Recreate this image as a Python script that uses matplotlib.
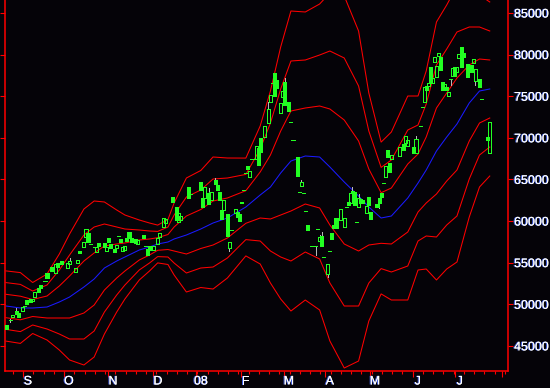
import numpy as np
import matplotlib
matplotlib.use('Agg')
import matplotlib.pyplot as plt
from matplotlib.patches import Rectangle
import matplotlib.patheffects as pe
import matplotlib.transforms as mtransforms

# ---------------- candle data (trading-day index, OHLC) ----------------
cdl_day = [
    0, 2, 3, 5, 6, 8, 9, 10, 12, 13,
    14, 16, 17, 19, 20, 22, 24, 25, 27, 30,
    31, 34, 35, 36, 38, 39, 40, 41, 43, 44,
    45, 48, 49, 50, 51, 53, 54, 55, 56, 57,
    58, 59, 60, 61, 63, 64, 67, 68, 69, 70,
    72, 74, 75, 77, 78, 81, 83, 84, 85, 89,
    90, 95, 96, 97, 99, 100, 102, 103, 104, 105,
    106, 108, 109, 110, 112, 113, 114, 115, 116, 117,
    118, 119, 120, 122, 123, 124, 126, 128, 129, 130,
    131, 132, 134, 135, 136, 138, 139, 140, 142, 143,
    144, 145, 146, 147, 149, 151, 152, 153, 154, 155,
    157, 158, 159, 160, 161, 163, 165, 166, 167, 168,
    169, 170, 171, 172, 173, 174, 176, 177, 178, 181,
    182, 183, 184, 185, 186, 187, 188, 192, 194, 195,
    196, 199, 200, 202, 203, 204, 205, 206, 207, 208,
    209, 210, 211, 212, 213, 214, 215, 216, 217, 218,
    219, 220, 221, 222, 223, 225, 227, 228, 229, 231,
    232, 235, 236]

cdl_open = [
    47510, 48110, 48470, 49190, 48950, 49190, 49790, 50510, 50630, 50390,
    50870, 51960, 52320, 52800, 53760, 54480, 53760, 54960, 55200, 54360,
    54840, 53880, 54960, 56400, 56880, 58080, 58560, 57240, 56880, 56280,
    57360, 57360, 56400, 57960, 57240, 56640, 56760, 58200, 57840, 56400,
    56520, 57960, 58680, 57960, 57840, 57240, 58320, 57000, 56640, 57000,
    56520, 57240, 58080, 59280, 59760, 62890, 61690, 59880, 60130, 64090,
    63250, 64690, 62770, 62770, 63370, 62530, 64930, 64330, 63490, 61330,
    61330, 60850, 56760, 58930, 60970, 61090, 60850, 62290, 63730, 65780,
    66620, 65290, 67460, 67460, 68780, 69980, 70100, 71780, 74310, 76590,
    77790, 76950, 72980, 74910, 76710, 74310, 71900, 69740, 67700, 63490,
    64210, 63370, 61210, 59530, 57000, 57000, 59050, 57600, 58200, 55680,
    53640, 56400, 58560, 59530, 60370, 60130, 59290, 61690, 62290, 62170,
    63610, 63490, 59890, 61690, 62650, 62530, 60970, 62890, 61090, 62050,
    62770, 63370, 64570, 65290, 68540, 66980, 67460, 67820, 69260, 69380,
    69020, 68900, 68180, 71420, 73700, 74310, 76230, 76230, 78510, 76590,
    79110, 77310, 79830, 79710, 76710, 75750, 76110, 75030, 77070, 77430,
    78510, 77910, 79590, 80910, 80190, 78870, 78750, 78990, 76830, 77070,
    74670, 70100, 68180]

cdl_close = [
    47030, 48110, 48710, 48830, 48470, 49670, 49790, 50030, 50270, 50630,
    51480, 51480, 51960, 52800, 53160, 54000, 54840, 54480, 54840, 54960,
    55200, 54360, 55320, 56160, 57480, 59040, 57480, 57240, 56880, 56880,
    57000, 56880, 56880, 57480, 56760, 56280, 57120, 58200, 57480, 56880,
    57000, 57600, 57960, 57480, 57360, 57720, 57960, 57000, 55920, 56520,
    57000, 57960, 58560, 60370, 60250, 62290, 60130, 60970, 60610, 62770,
    63250, 63730, 61690, 64090, 62050, 63490, 64450, 63730, 62530, 60250,
    62530, 58200, 57480, 58930, 61450, 60490, 60010, 62170, 63730, 65780,
    66260, 66020, 67460, 69020, 66740, 68300, 71420, 73460, 75150, 76590,
    75030, 75990, 74190, 75630, 73950, 73220, 71900, 69740, 65410, 63490,
    64690, 63370, 61210, 58930, 57000, 57000, 59050, 58080, 57000, 55680,
    54840, 56400, 57840, 59170, 59170, 61450, 60370, 61690, 61930, 63370,
    63370, 61930, 59890, 62770, 62170, 62170, 61810, 61930, 60250, 61690,
    62170, 62890, 64570, 66620, 67700, 65900, 67940, 68900, 68540, 70220,
    69740, 68180, 69860, 71420, 73700, 76110, 75750, 76590, 76710, 77190,
    79710, 78630, 80190, 78150, 75750, 76470, 75750, 75510, 77070, 78390,
    77430, 78510, 80070, 78510, 79710, 77310, 77910, 79470, 78270, 76110,
    74670, 69740, 71900]

cdl_high = [
    47510, 48230, 48710, 49550, 48950, 49670, 49790, 50510, 50630, 50630,
    51480, 51960, 52320, 52800, 53760, 54480, 54840, 54960, 55200, 54960,
    55560, 54360, 55320, 56400, 57480, 59040, 58560, 57240, 56880, 56880,
    57360, 57360, 56880, 57960, 57240, 56640, 57120, 58200, 57840, 56880,
    57000, 57960, 58680, 57960, 57840, 57720, 58320, 57000, 56640, 57000,
    57000, 57960, 58560, 60370, 60250, 62890, 61690, 60970, 60610, 64090,
    63250, 64690, 62770, 64090, 63970, 63490, 65170, 64330, 63490, 61330,
    62530, 60850, 57480, 58930, 61450, 61090, 60850, 62290, 63730, 65780,
    66620, 66020, 67460, 69020, 68780, 69980, 71420, 74310, 75150, 76590,
    77790, 76950, 74190, 75630, 77190, 74310, 71900, 69740, 67700, 63490,
    64930, 63370, 61210, 59530, 57000, 57000, 59050, 58320, 58680, 55680,
    54840, 56400, 58560, 59530, 60370, 61450, 60370, 61690, 62290, 63370,
    64090, 63490, 59890, 63250, 62650, 62530, 61810, 62890, 61090, 62050,
    62770, 63370, 64570, 66620, 68540, 66980, 67940, 68900, 69260, 70220,
    69740, 68900, 70220, 71420, 73700, 76110, 76230, 76590, 78510, 77190,
    79710, 78630, 80190, 79710, 76710, 76470, 76110, 75510, 77070, 78390,
    78510, 78510, 80070, 80910, 80190, 78870, 78750, 79470, 78270, 77070,
    74670, 70100, 71900]

cdl_low = [
    47030, 47870, 48470, 48830, 48470, 49190, 49790, 50030, 50270, 50390,
    50870, 51480, 51960, 52800, 53160, 54000, 53760, 54480, 54840, 54360,
    54840, 53880, 54960, 56160, 56880, 58080, 57480, 57240, 56880, 56280,
    57000, 56880, 56400, 57480, 56760, 56280, 56760, 58200, 57480, 56400,
    56520, 57600, 57960, 57480, 57360, 57240, 57960, 57000, 55920, 56520,
    56520, 57240, 58080, 59280, 59760, 62290, 60130, 59880, 60130, 62770,
    63250, 63730, 61690, 62770, 62050, 62530, 64450, 63730, 62530, 60250,
    61330, 58200, 56400, 58930, 60970, 60490, 60010, 62170, 63730, 65780,
    66260, 65290, 67460, 67460, 66740, 68300, 70100, 71780, 74310, 76590,
    75030, 75990, 72980, 74910, 73950, 73220, 71900, 69740, 65410, 63490,
    64210, 63370, 61210, 58930, 57000, 55920, 59050, 57600, 57000, 55680,
    53280, 56400, 57840, 59170, 59170, 60130, 59290, 61690, 61930, 62170,
    63370, 61930, 59890, 61690, 62170, 62170, 60970, 61930, 60250, 61690,
    61570, 62890, 64570, 65290, 67700, 65900, 67460, 67820, 68540, 69380,
    69020, 68180, 68180, 71420, 73700, 74310, 75750, 76230, 76710, 76590,
    79110, 77310, 79830, 78150, 75750, 75750, 75750, 75030, 76350, 77430,
    77430, 77910, 79590, 78510, 79710, 77310, 77910, 78990, 76350, 76110,
    74670, 69740, 68180]

# ---------------- band data: moving average and band width ----------------
band_day = [0, 7, 13, 20, 26, 31, 38, 43, 48, 54, 58, 65, 70, 74, 79, 82, 88,
            95, 101, 108, 117, 124, 129, 134, 139, 146, 153, 158, 165, 172,
            177, 183, 188, 196, 201, 205, 210, 215, 220, 226, 231, 236]
band_mid = [49793, 49553, 49553, 49673, 50274, 50874, 52076, 53037, 54359,
            55200, 55681, 56522, 56883, 57243, 57483, 57844, 58324, 59045,
            59766, 60367, 61689, 63131, 64092, 65775, 67216, 67817, 67697,
            66496, 64693, 63011, 61689, 60367, 60607, 62770, 64573, 66135,
            68418, 70100, 71662, 74186, 75627, 75868]
band_sd = [1406, 1418, 1021, 1322, 1923, 2523, 3124, 3124, 2644, 2043, 1682,
           1202, 961, 757, 901, 1442, 2283, 2343, 2644, 2403, 1959, 2764,
           3845, 5047, 6008, 5768, 6128, 6969, 7450, 6609, 4566, 3040, 3364,
           4085, 3485, 3965, 5167, 5287, 5527, 4566, 3845, 3485]
band_mult = [-3, -2, -1, 1, 2, 3]

# ---------------- axis labels ----------------
price_ticks = [45000, 50000, 55000, 60000, 65000, 70000, 75000, 80000, 85000]
month_ticks = [8.3, 28.3, 49.8, 71.7, 92.7, 114.6, 135.6, 155.6, 177.6, 198.5, 219.0, 241.9]
month_labels = ['S', 'O', 'N', 'D', '08', 'F', 'M', 'A', 'M', 'J', 'J', '']

BG = '#050308'
RED = '#ff0000'
GREEN = '#22ff22'
WICK = '#b8b8b8'

W, H = 550, 388
fig = plt.figure(figsize=(W / 100, H / 100), dpi=100, facecolor=BG)
ax = fig.add_axes([5 / W, 1 - 371 / H, 503 / W, 371 / H])
ax.set_facecolor(BG)

ax.set_xlim(-0.5, 244.9)
ax.set_ylim(41983, 86562)

LW = 0.6
BLW = 0.75

# bands
bd = np.array(band_day, dtype=float)
bm = np.array(band_mid, dtype=float)
bs = np.array(band_sd, dtype=float)
for k in band_mult:
    ax.plot(bd, bm + k * bs, color=RED, lw=BLW, antialiased=True, zorder=2)
ax.plot(bd, bm, color='#1a1aff', lw=BLW, antialiased=True, zorder=2)

# candles
bw = 1.5
for d, o, h, l, c in zip(cdl_day, cdl_open, cdl_high, cdl_low, cdl_close):
    top, bot = max(o, c), min(o, c)
    if h > top:
        ax.plot([d, d], [top, h], color=WICK, lw=LW, antialiased=False, zorder=3)
    if l < bot:
        ax.plot([d, d], [l, bot], color=WICK, lw=LW, antialiased=False, zorder=3)
    if c == o:
        ax.plot([d - bw / 2, d + bw / 2], [c, c], color=GREEN, lw=LW,
                antialiased=False, zorder=4)
    elif c > o:
        ax.add_patch(Rectangle((d - bw / 2, bot), bw, top - bot, facecolor='none',
                               edgecolor=GREEN, lw=LW, antialiased=False, zorder=4))
    else:
        ax.add_patch(Rectangle((d - bw / 2, bot), bw, top - bot, facecolor=GREEN,
                               edgecolor=GREEN, lw=LW, antialiased=False, zorder=4))

# spines
for s in ['left', 'right', 'bottom']:
    ax.spines[s].set_color(RED)
    ax.spines[s].set_linewidth(1.1)
ax.spines['top'].set_visible(False)

shadow = [pe.withSimplePatchShadow(offset=(-0.8, 0.0), shadow_rgbFace='#4a6cff', alpha=0.9),
          pe.Normal()]

ax.set_yticks(price_ticks)
ax.set_yticklabels([str(v) for v in price_ticks])
ax.tick_params(axis='y', which='both', left=True, right=True, labelleft=False,
               labelright=True, direction='out', length=3.4, width=0.8, color=RED,
               pad=1.0, labelsize=9, labelcolor='white')
for lab in ax.get_yticklabels():
    lab.set_fontfamily('Liberation Sans')
    lab.set_path_effects(shadow)

ax.set_xticks(month_ticks)
ax.set_xticklabels([''] * len(month_ticks))
ax.set_xticks(np.arange(3.4, 244, 5.0), minor=True)
ax.tick_params(axis='x', which='major', direction='out', length=4.5, width=0.8, color=RED)
ax.tick_params(axis='x', which='minor', direction='out', length=2.3, width=0.8, color=RED)

trans = mtransforms.blended_transform_factory(ax.transData, fig.transFigure)
for t, lab in zip(month_ticks, month_labels):
    if lab:
        ax.text(t + 2.4, 1 - 381.5 / H, lab, transform=trans, ha='center', va='center',
                color='white', fontsize=9, family='Liberation Sans',
                path_effects=shadow, clip_on=False)

fig.savefig('out.png', dpi=100, facecolor=BG)
